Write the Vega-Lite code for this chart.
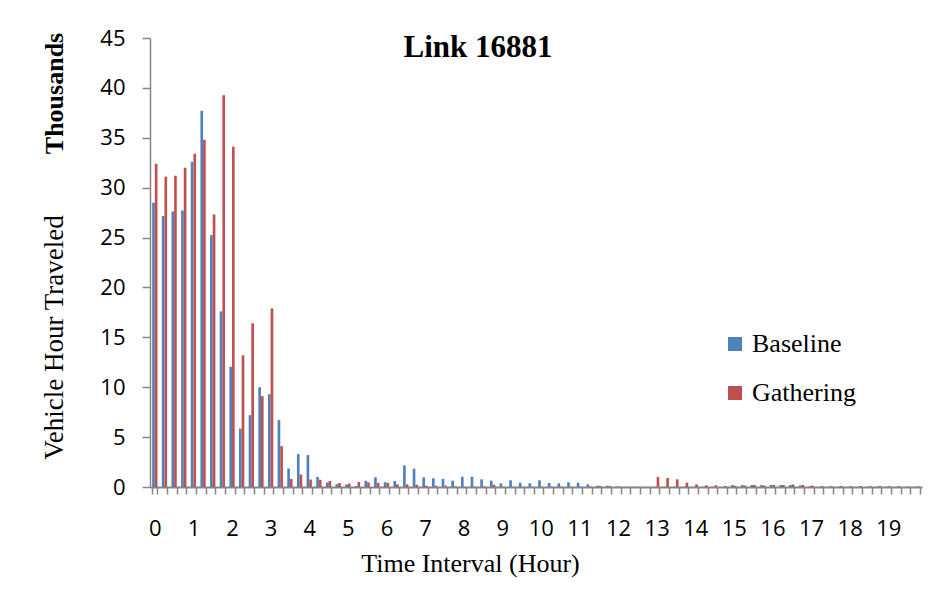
{
  "$schema": "https://vega.github.io/schema/vega-lite/v6.json",
  "width": 772,
  "height": 449,
  "autosize": {"type": "none"},
  "padding": {"left": 150, "top": 38, "right": 16, "bottom": 108},
  "background": "white",
  "title": {
    "text": "Link 16881",
    "font": "Liberation Serif",
    "fontSize": 31,
    "fontWeight": "bold",
    "color": "black",
    "anchor": "middle",
    "baseline": "alphabetic",
    "dx": -58,
    "offset": -61
  },
  "data": {
    "values": [
      {"h": 0, "Baseline": 28.5, "Gathering": 32.4},
      {"h": 0.25, "Baseline": 27.15, "Gathering": 31.1},
      {"h": 0.5, "Baseline": 27.6, "Gathering": 31.2},
      {"h": 0.75, "Baseline": 27.7, "Gathering": 32.0},
      {"h": 1, "Baseline": 32.6, "Gathering": 33.4},
      {"h": 1.25, "Baseline": 37.7, "Gathering": 34.8},
      {"h": 1.5, "Baseline": 25.25, "Gathering": 27.3},
      {"h": 1.75, "Baseline": 17.6, "Gathering": 39.25},
      {"h": 2, "Baseline": 12.05, "Gathering": 34.1},
      {"h": 2.25, "Baseline": 5.85, "Gathering": 13.2},
      {"h": 2.5, "Baseline": 7.2, "Gathering": 16.4},
      {"h": 2.75, "Baseline": 10.0, "Gathering": 9.1},
      {"h": 3, "Baseline": 9.3, "Gathering": 17.9},
      {"h": 3.25, "Baseline": 6.7, "Gathering": 4.1},
      {"h": 3.5, "Baseline": 1.85, "Gathering": 0.8},
      {"h": 3.75, "Baseline": 3.3, "Gathering": 1.25},
      {"h": 4, "Baseline": 3.2, "Gathering": 0.75},
      {"h": 4.25, "Baseline": 1.0, "Gathering": 0.72},
      {"h": 4.5, "Baseline": 0.45, "Gathering": 0.6},
      {"h": 4.75, "Baseline": 0.28, "Gathering": 0.4},
      {"h": 5, "Baseline": 0.25, "Gathering": 0.35},
      {"h": 5.25, "Baseline": 0.1, "Gathering": 0.5},
      {"h": 5.5, "Baseline": 0.63, "Gathering": 0.46},
      {"h": 5.75, "Baseline": 0.98, "Gathering": 0.42},
      {"h": 6, "Baseline": 0.48, "Gathering": 0.42},
      {"h": 6.25, "Baseline": 0.6, "Gathering": 0.27},
      {"h": 6.5, "Baseline": 2.17, "Gathering": 0.27},
      {"h": 6.75, "Baseline": 1.83, "Gathering": 0.23},
      {"h": 7, "Baseline": 0.97, "Gathering": 0.13},
      {"h": 7.25, "Baseline": 0.87, "Gathering": 0.13},
      {"h": 7.5, "Baseline": 0.8, "Gathering": 0.13},
      {"h": 7.75, "Baseline": 0.63, "Gathering": 0.05},
      {"h": 8, "Baseline": 1.03, "Gathering": 0.03},
      {"h": 8.25, "Baseline": 1.03, "Gathering": 0.03},
      {"h": 8.5, "Baseline": 0.77, "Gathering": 0.05},
      {"h": 8.75, "Baseline": 0.63, "Gathering": 0.23},
      {"h": 9, "Baseline": 0.37, "Gathering": 0.03},
      {"h": 9.25, "Baseline": 0.67, "Gathering": 0.02},
      {"h": 9.5, "Baseline": 0.43, "Gathering": 0.02},
      {"h": 9.75, "Baseline": 0.37, "Gathering": 0.02},
      {"h": 10, "Baseline": 0.67, "Gathering": 0.02},
      {"h": 10.25, "Baseline": 0.4, "Gathering": 0.02},
      {"h": 10.5, "Baseline": 0.37, "Gathering": 0.02},
      {"h": 10.75, "Baseline": 0.47, "Gathering": 0.02},
      {"h": 11, "Baseline": 0.43, "Gathering": 0.02},
      {"h": 11.25, "Baseline": 0.27, "Gathering": 0.05},
      {"h": 11.5, "Baseline": 0.13, "Gathering": 0.1},
      {"h": 11.75, "Baseline": 0.13, "Gathering": 0.1},
      {"h": 12, "Baseline": 0.05, "Gathering": 0.05},
      {"h": 12.25, "Baseline": 0.02, "Gathering": 0.02},
      {"h": 12.5, "Baseline": 0.02, "Gathering": 0.02},
      {"h": 12.75, "Baseline": 0.02, "Gathering": 0.02},
      {"h": 13, "Baseline": 0.02, "Gathering": 1.0},
      {"h": 13.25, "Baseline": 0.02, "Gathering": 0.9},
      {"h": 13.5, "Baseline": 0.02, "Gathering": 0.77},
      {"h": 13.75, "Baseline": 0.02, "Gathering": 0.43},
      {"h": 14, "Baseline": 0.02, "Gathering": 0.27},
      {"h": 14.25, "Baseline": 0.02, "Gathering": 0.17},
      {"h": 14.5, "Baseline": 0.02, "Gathering": 0.17},
      {"h": 14.75, "Baseline": 0.02, "Gathering": 0.1},
      {"h": 15, "Baseline": 0.2, "Gathering": 0.1},
      {"h": 15.25, "Baseline": 0.2, "Gathering": 0.15},
      {"h": 15.5, "Baseline": 0.2, "Gathering": 0.2},
      {"h": 15.75, "Baseline": 0.2, "Gathering": 0.15},
      {"h": 16, "Baseline": 0.2, "Gathering": 0.2},
      {"h": 16.25, "Baseline": 0.2, "Gathering": 0.2},
      {"h": 16.5, "Baseline": 0.2, "Gathering": 0.25},
      {"h": 16.75, "Baseline": 0.15, "Gathering": 0.2},
      {"h": 17, "Baseline": 0.05, "Gathering": 0.15},
      {"h": 17.25, "Baseline": 0.02, "Gathering": 0.1},
      {"h": 17.5, "Baseline": 0.02, "Gathering": 0.08},
      {"h": 17.75, "Baseline": 0.02, "Gathering": 0.1},
      {"h": 18, "Baseline": 0.02, "Gathering": 0.08},
      {"h": 18.25, "Baseline": 0.02, "Gathering": 0.1},
      {"h": 18.5, "Baseline": 0.02, "Gathering": 0.08},
      {"h": 18.75, "Baseline": 0.02, "Gathering": 0.1},
      {"h": 19, "Baseline": 0.02, "Gathering": 0.08},
      {"h": 19.25, "Baseline": 0.02, "Gathering": 0.08},
      {"h": 19.5, "Baseline": 0.02, "Gathering": 0.05},
      {"h": 19.75, "Baseline": 0.02, "Gathering": 0.05}
    ]
  },
  "transform": [{"fold": ["Baseline", "Gathering"], "as": ["series", "vht"]}],
  "layer": [
    {
      "mark": {"type": "bar"},
      "encoding": {
        "x": {
          "field": "h",
          "type": "ordinal",
          "sort": "ascending",
          "scale": {"paddingInner": 0.45, "paddingOuter": 0.225},
          "axis": {
            "title": "Time Interval (Hour)",
            "titleFont": "Liberation Serif",
            "titleFontSize": 26,
            "titleFontWeight": "normal",
            "titleColor": "black",
            "titleX": 320,
            "titleY": 76,
            "titleAlign": "center",
            "titleBaseline": "middle",
            "labelExpr": "datum.value % 1 === 0 ? datum.label : ''",
            "labelAngle": 0,
            "labelOverlap": false,
            "labelFont": "Open Sans",
            "labelFontSize": 22,
            "labelColor": "black",
            "labelPadding": 24,
            "labelBaseline": "top",
            "tickBand": "extent",
            "tickSize": 7,
            "tickColor": "#868686",
            "tickWidth": 1.5,
            "domainColor": "#868686",
            "domainWidth": 2
          }
        },
        "xOffset": {"field": "series", "type": "nominal"},
        "y": {
          "field": "vht",
          "type": "quantitative",
          "scale": {"domain": [0, 45], "nice": false},
          "axis": {
            "values": [0, 5, 10, 15, 20, 25, 30, 35, 40, 45],
            "grid": false,
            "title": "Vehicle Hour Traveled",
            "titleFont": "Liberation Serif",
            "titleFontSize": 27,
            "titleFontWeight": "normal",
            "titleColor": "black",
            "titleX": -96,
            "titleY": 299,
            "titleAlign": "center",
            "titleBaseline": "middle",
            "titleAngle": -90,
            "labelFont": "Open Sans",
            "labelFontSize": 22,
            "labelColor": "black",
            "labelPadding": 17,
            "tickSize": 8,
            "tickColor": "#868686",
            "tickWidth": 1.5,
            "domainColor": "#868686",
            "domainWidth": 1.5
          }
        },
        "color": {
          "field": "series",
          "type": "nominal",
          "scale": {"domain": ["Baseline", "Gathering"], "range": ["#4F81BD", "#C0504D"]},
          "legend": {
            "title": null,
            "orient": "none",
            "legendX": 572,
            "legendY": 293,
            "symbolType": "square",
            "symbolSize": 196,
            "symbolStrokeWidth": 0,
            "labelFont": "Liberation Serif",
            "labelFontSize": 26,
            "labelColor": "black",
            "labelOffset": 4,
            "rowPadding": 23
          }
        }
      }
    },
    {
      "mark": {"type": "point", "opacity": 0},
      "encoding": {
        "y": {
          "field": "vht",
          "type": "quantitative",
          "axis": {
            "orient": "left",
            "title": "Thousands",
            "titleFont": "Liberation Serif",
            "titleFontSize": 26,
            "titleFontWeight": "bold",
            "titleColor": "black",
            "titleX": -96,
            "titleY": 55,
            "titleAlign": "center",
            "titleBaseline": "middle",
            "titleAngle": -90,
            "labels": false,
            "ticks": false,
            "domain": false,
            "grid": false
          }
        }
      }
    }
  ],
  "resolve": {"scale": {"y": "shared"}, "axis": {"y": "independent"}},
  "config": {"view": {"stroke": null}}
}
